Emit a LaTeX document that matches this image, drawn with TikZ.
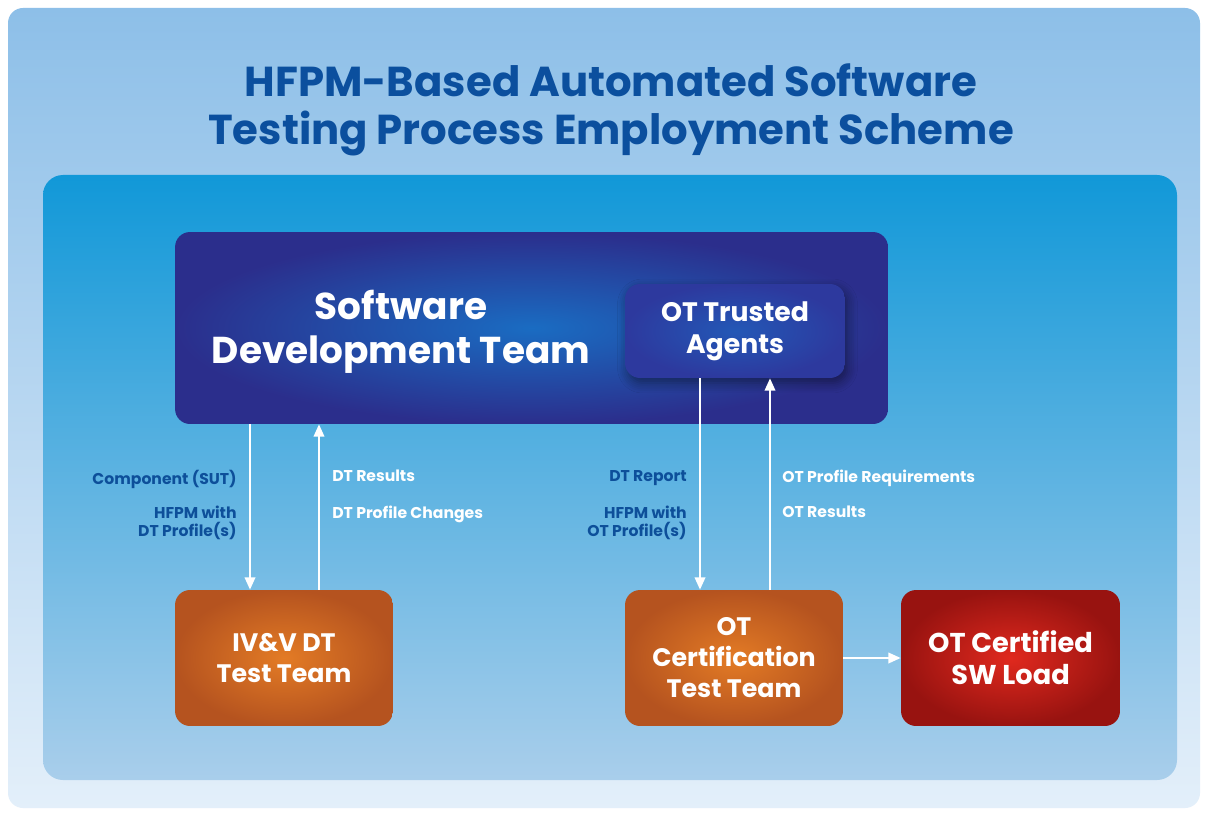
\documentclass[tikz,border=0pt]{standalone}
\usepackage{fontspec}
\setmainfont{Poppins}
\usetikzlibrary{arrows.meta,shadows.blur,calc}
\definecolor{titleblue}{HTML}{0B4F9E}
\definecolor{labblue}{HTML}{0D4F9A}
\definecolor{cardtop}{HTML}{8DBFE8}
\definecolor{cardbot}{HTML}{E3EFFA}
\definecolor{paneltop}{HTML}{1198D8}
\definecolor{panelbot}{HTML}{A9CEEB}
\definecolor{sdtout}{HTML}{2B2E8C}
\definecolor{sdtin}{HTML}{1A6CC2}
\definecolor{otaout}{HTML}{2D399E}
\definecolor{otain}{HTML}{2358B6}
\definecolor{orout}{HTML}{B5531F}
\definecolor{orin}{HTML}{E37B25}
\definecolor{redout}{HTML}{981310}
\definecolor{redin}{HTML}{E0291E}
\tikzset{
  boxtext/.style={text=white,font=\bfseries\fontsize{14.4}{17.6}\selectfont,align=center},
  orangebox/.style={rounded corners=0.3cm,inner color=orin,outer color=orout,minimum width=4.36cm,minimum height=2.72cm,boxtext},
  redbox/.style={rounded corners=0.3cm,inner color=redin,outer color=redout,minimum width=4.38cm,minimum height=2.72cm,boxtext,font=\bfseries\fontsize{15.5}{18}\selectfont},
  arr/.style={draw=white,line width=1.1pt,-{Triangle[length=7pt,width=6pt]}},
  lab/.style={font=\bfseries\fontsize{8.9}{10}\selectfont,inner sep=0pt},
  darklab/.style={lab,text=labblue,align=right,anchor=north east},
  whitelab/.style={lab,text=white,align=left,anchor=north west}
}
\begin{document}
\begin{tikzpicture}[x=0.02cm,y=-0.02cm]
\useasboundingbox (0,0) rectangle (1209,814);
\fill[white] (0,0) rectangle (1209,814);
% outer card
\shade[top color=cardtop,bottom color=cardbot,rounded corners=0.3cm] (8,8) rectangle (1200,808);
% inner panel
\shade[top color=paneltop,bottom color=panelbot,rounded corners=0.4cm] (43,175) rectangle (1177,780);
% title
\node[text=titleblue,font=\bfseries\fontsize{23.8}{27}\selectfont,align=center] (title) at (611,110)
  {HFPM-Based Automated Software\\Testing Process Employment Scheme};
% software development team
\node[rounded corners=0.3cm,inner color=sdtin,outer color=sdtout,minimum width=14.26cm,minimum height=3.84cm] (sdt) at (531.5,328) {};
\node[text=white,font=\bfseries\fontsize{21.3}{25}\selectfont,align=center] (sdtlabel) at (401,332) {Software\\Development Team};
\node[rounded corners=0.3cm,inner color=otain,outer color=otaout,minimum width=4.4cm,minimum height=1.88cm,
  blur shadow={shadow blur steps=6,shadow xshift=0.05cm,shadow yshift=-0.1cm,shadow blur radius=0.2cm,shadow opacity=45},
  text=white,font=\bfseries\fontsize{15.2}{18}\selectfont,align=center] (ota) at (735,331) {OT Trusted\\Agents};
% bottom boxes
\node[orangebox] (ivv) at (284,658) {IV\&V DT\\Test Team};
\node[orangebox] (otc) at (734,658) {OT\\Certification\\Test Team};
\node[redbox] (otl) at (1010.5,658) {OT Certified\\SW Load};
% arrows
\draw[arr] ([xshift=-0.68cm]ivv.north |- sdt.south) -- ([xshift=-0.68cm]ivv.north);
\draw[arr] ([xshift=0.70cm]ivv.north) -- ([xshift=0.70cm]ivv.north |- sdt.south);
\draw[arr] ([xshift=-0.68cm]otc.north |- ota.south) -- ([xshift=-0.68cm]otc.north);
\draw[arr] ([xshift=0.72cm]otc.north) -- ([xshift=0.72cm]otc.north |- ota.south);
\draw[arr] (otc.east) -- (otl.west);
% labels
\node[darklab] (l1) at (237,470) {Component (SUT)};
\node[darklab] (l2) at (237,506) {HFPM with\\DT Profile(s)};
\node[whitelab] (l3) at (332,470) {DT Results};
\node[whitelab] (l4) at (332,506) {DT Profile Changes};
\node[darklab] (l5) at (687,470) {DT Report};
\node[darklab] (l6) at (687,506) {HFPM with\\OT Profile(s)};
\node[whitelab] (l7) at (782,470) {OT Profile Requirements};
\node[whitelab] (l8) at (782,506) {OT Results};
\end{tikzpicture}
\end{document}
